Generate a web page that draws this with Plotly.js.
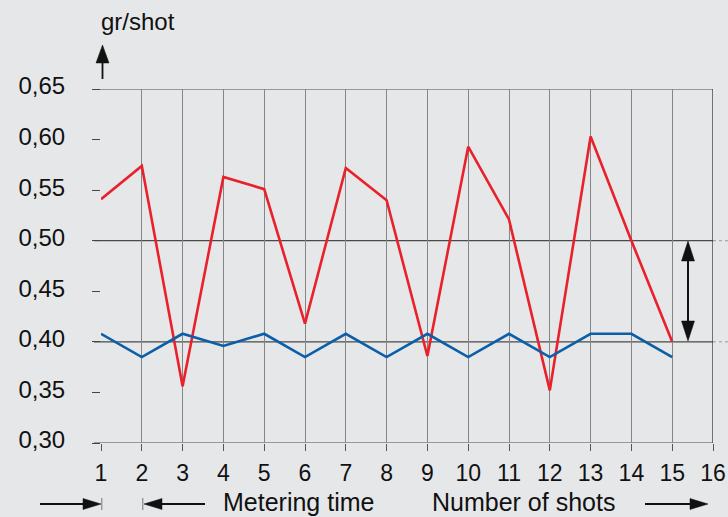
<!DOCTYPE html>
<html><head><meta charset="utf-8">
<script src="https://cdn.plot.ly/plotly-3.0.1.min.js"></script>
<style>html,body{margin:0;padding:0;background:#e6e7e9;}</style>
</head><body>
<div id="chart" style="width:728px;height:517px;"></div>
<script>
// Data
const shots = [1,2,3,4,5,6,7,8,9,10,11,12,13,14,15];
const redValues = [0.541,0.574,0.356,0.563,0.551,0.418,0.572,0.540,0.386,0.593,0.521,0.352,0.603,0.500,0.400];
const blueValues = [0.408,0.385,0.408,0.396,0.408,0.385,0.408,0.385,0.408,0.385,0.408,0.385,0.408,0.408,0.385];
const xTicks = [1,2,3,4,5,6,7,8,9,10,11,12,13,14,15,16];
const yTicks = [0.30,0.35,0.40,0.45,0.50,0.55,0.60,0.65];
const hLines = [0.65,0.50,0.40,0.30];
const yTitle = "gr/shot";
const label1 = "Metering time";
const label2 = "Number of shots";

const W=728,H=517,L=101,R=15,T=89,B=74;
const pw=W-L-R, ph=H-T-B;
const px=x=>(x-L)/pw, py=y=>(H-B-y)/ph;
const FONT="Liberation Sans, Arial, sans-serif";

const shapes=[];
hLines.forEach(v=>{
  shapes.push({type:'line',xref:'paper',yref:'y',x0:px(94),x1:1,y0:v,y1:v,line:{color:'#4a4a4a',width:1.2},layer:'below'});
});
[0.50,0.40].forEach(v=>{
  shapes.push({type:'line',xref:'paper',yref:'y',x0:1,x1:px(728),y0:v,y1:v,line:{color:'#9a9a9a',width:1,dash:'dot'}});
});
shapes.push({type:'line',xref:'x',yref:'paper',x0:16,x1:16,y0:0,y1:1,line:{color:'#333',width:1.3}});
function seg(x0,y0,x1,y1,w,c){shapes.push({type:'line',xref:'paper',yref:'paper',x0:px(x0),y0:py(y0),x1:px(x1),y1:py(y1),line:{color:c||'#111',width:w||2}});}
function tri(pts){let d='M'+pts.map(p=>px(p[0])+','+py(p[1])).join(' L')+' Z';shapes.push({type:'path',xref:'paper',yref:'paper',path:d,fillcolor:'#111',line:{color:'#111',width:0.5}});}
// y arrow
seg(102.5,79,102.5,60,1.8);
tri([[102.5,45],[96,63],[109,63]]);
// bottom arrows
const ay=504;
seg(40,ay,86,ay,1.8); tri([[101,ay],[83,ay-5.5],[83,ay+5.5]]);
seg(101.8,ay-6,101.8,ay+6,1,'#777');
seg(142.8,ay-6,142.8,ay+6,1,'#777');
tri([[144,ay],[162,ay-5.5],[162,ay+5.5]]); seg(159,ay,205,ay,1.8);
seg(645,ay,693,ay,1.8); tri([[708,ay],[690,ay-5.5],[690,ay+5.5]]);
// double arrow
seg(688,258,688,324,2);
tri([[688,241],[681.5,261],[694.5,261]]);
tri([[688,341],[681.5,321],[694.5,321]]);

const annotations=[
  {xref:'paper',yref:'paper',x:px(99),y:py(22),xanchor:'left',yanchor:'middle',text:yTitle,showarrow:false,font:{family:FONT,size:24,color:'#111'}},
  {xref:'paper',yref:'paper',x:px(221),y:py(502),xanchor:'left',yanchor:'middle',text:label1,showarrow:false,font:{family:FONT,size:25,color:'#111'}},
  {xref:'paper',yref:'paper',x:px(430),y:py(502),xanchor:'left',yanchor:'middle',text:label2,showarrow:false,font:{family:FONT,size:25,color:'#111'}}
];

const data=[
  {x:shots,y:redValues,type:'scatter',mode:'lines',line:{color:'#e8212b',width:2.6},hoverinfo:'skip'},
  {x:shots,y:blueValues,type:'scatter',mode:'lines',line:{color:'#0b5ea8',width:2.6},hoverinfo:'skip'}
];
const layout={
  width:W,height:H,margin:{l:L,r:R,t:T,b:B,pad:0},
  paper_bgcolor:'#e6e7e9',plot_bgcolor:'#e6e7e9',showlegend:false,
  separators:',.',
  font:{family:FONT,size:24,color:'#111'},
  xaxis:{range:[1,16],tickvals:xTicks,ticktext:xTicks.map(String),showgrid:true,gridcolor:'#858585',gridwidth:1,
    zeroline:false,showline:false,ticks:'outside',ticklen:7,tickcolor:'#555',tickwidth:1,ticklabelstandoff:2,
    tickfont:{family:FONT,size:23,color:'#111'},fixedrange:true},
  yaxis:{range:[0.30,0.65],tickvals:yTicks,tickformat:'.2f',showgrid:false,zeroline:false,showline:false,
    ticks:'outside',ticklen:8,tickcolor:'#444',tickwidth:1,ticklabelstandoff:22,ticklabelshift:-3,
    tickfont:{family:FONT,size:24,color:'#111'},fixedrange:true},
  shapes:shapes,annotations:annotations
};
Plotly.newPlot('chart',data,layout,{displayModeBar:false,staticPlot:true});
</script>
</body></html>
